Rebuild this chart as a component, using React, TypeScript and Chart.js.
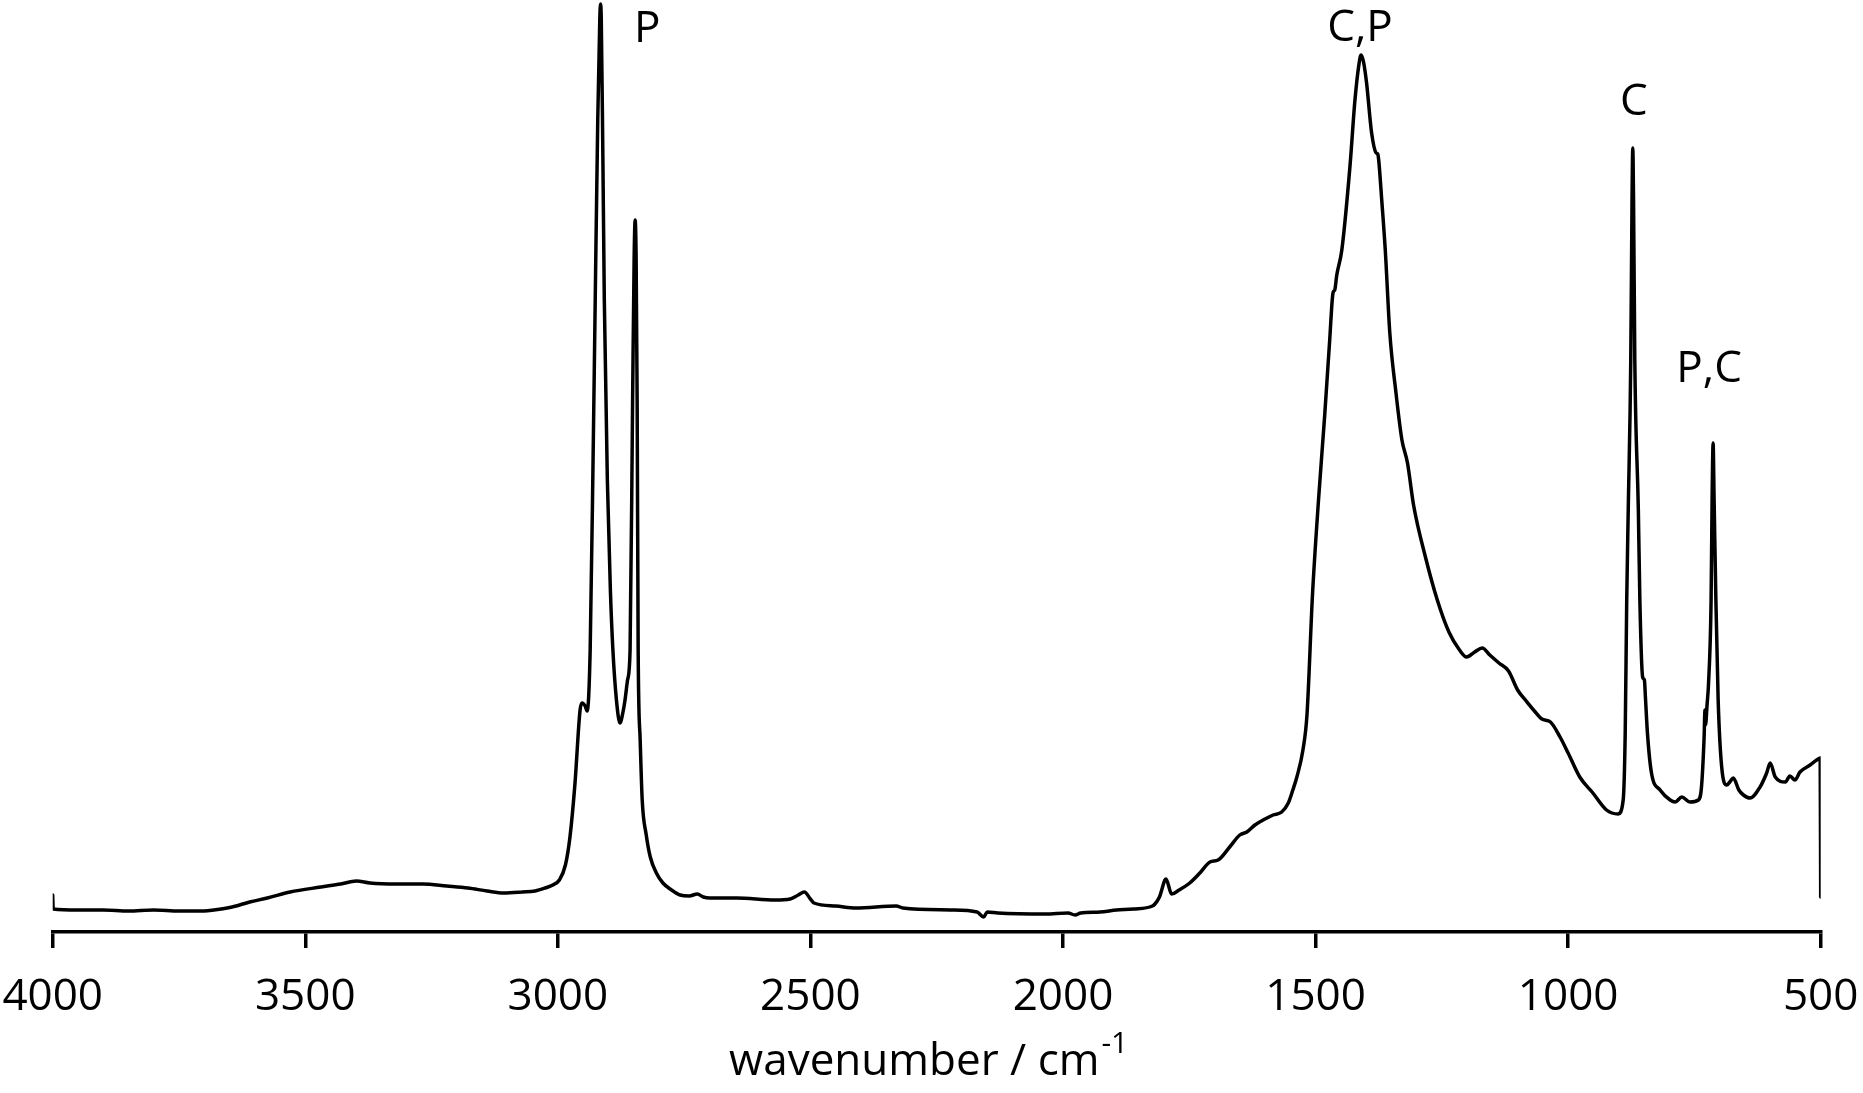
import React, { useEffect, useRef } from "react";
import { Chart, registerables } from "chart.js";

Chart.register(...registerables);

// FTIR spectrum (wavenumber in cm-1, absorbance in arbitrary units)
const wavenumbers = [
  4000, 3999, 3950, 3900, 3850, 3800, 3750, 3700, 3681, 3645, 3610, 3575, 3530, 3469, 3430, 3399,
  3372, 3320, 3267, 3220, 3178, 3140, 3107, 3070, 3045, 3025, 3010, 2997, 2985, 2976, 2966, 2956,
  2952, 2946, 2942, 2936, 2930, 2926, 2921, 2917, 2915.5, 2914, 2911, 2908, 2902, 2896, 2891, 2884,
  2877, 2871, 2867, 2862, 2857, 2852, 2849, 2847, 2845, 2843, 2841, 2837, 2833, 2825, 2817, 2805,
  2792, 2775, 2758, 2740, 2724, 2712, 2699, 2646, 2570, 2540, 2524, 2512, 2500, 2493, 2450, 2410,
  2330, 2317, 2223, 2170, 2157, 2150, 2129, 2035, 1990, 1976, 1965, 1927, 1894, 1861, 1823, 1818,
  1809, 1796, 1785, 1770, 1749, 1729, 1709, 1693, 1670, 1650, 1636, 1620, 1600, 1584, 1567, 1554,
  1545, 1537, 1525, 1517, 1506, 1494, 1482, 1472, 1467, 1465, 1462, 1458, 1448, 1432, 1422, 1414,
  1410, 1405, 1399, 1389, 1380, 1377, 1375, 1369, 1362, 1353, 1341, 1329, 1318, 1306, 1282, 1259,
  1236, 1215, 1201, 1185, 1170, 1155, 1137, 1118, 1100, 1083, 1065, 1052, 1035, 1016, 1000, 977,
  951, 924, 901, 891, 887, 884, 881, 876, 873.5, 872, 870.5, 868, 861, 858, 852.5, 849,
  847, 843, 835, 818, 798, 788, 775, 759, 742, 736, 731, 729, 728, 725, 722, 717,
  715, 713, 711, 707.5, 703, 696, 686, 680, 673, 662, 653, 640, 620, 607, 600, 590,
  570, 561, 551, 541, 521, 508, 501, 500,
];

const absorbance = [
  0.037, 0.023, 0.022, 0.022, 0.021, 0.022, 0.021, 0.021, 0.022, 0.025, 0.030, 0.034, 0.040, 0.045, 0.048, 0.051,
  0.049, 0.048, 0.048, 0.046, 0.044, 0.041, 0.039, 0.040, 0.041, 0.044, 0.047, 0.052, 0.067, 0.095, 0.149, 0.222,
  0.229, 0.226, 0.221, 0.282, 0.482, 0.632, 0.812, 0.912, 0.928, 0.912, 0.782, 0.632, 0.452, 0.342, 0.282, 0.232,
  0.209, 0.220, 0.232, 0.252, 0.282, 0.532, 0.672, 0.712, 0.672, 0.532, 0.282, 0.192, 0.132, 0.097, 0.075, 0.059,
  0.049, 0.042, 0.037, 0.036, 0.038, 0.035, 0.034, 0.034, 0.032, 0.033, 0.037, 0.040, 0.033, 0.029, 0.026, 0.024,
  0.026, 0.024, 0.022, 0.020, 0.015, 0.020, 0.019, 0.018, 0.019, 0.017, 0.019, 0.020, 0.022, 0.023, 0.026, 0.028,
  0.035, 0.053, 0.038, 0.042, 0.049, 0.059, 0.070, 0.072, 0.085, 0.097, 0.100, 0.107, 0.113, 0.117, 0.120, 0.129,
  0.142, 0.155, 0.182, 0.217, 0.338, 0.433, 0.516, 0.592, 0.632, 0.640, 0.642, 0.657, 0.682, 0.765, 0.832, 0.868,
  0.877, 0.870, 0.849, 0.799, 0.779, 0.778, 0.772, 0.732, 0.682, 0.599, 0.540, 0.492, 0.469, 0.427, 0.374, 0.332,
  0.300, 0.282, 0.275, 0.280, 0.284, 0.277, 0.269, 0.261, 0.242, 0.231, 0.220, 0.213, 0.210, 0.195, 0.179, 0.155,
  0.139, 0.122, 0.118, 0.132, 0.199, 0.332, 0.422, 0.572, 0.732, 0.784, 0.732, 0.572, 0.422, 0.332, 0.255, 0.252,
  0.235, 0.199, 0.159, 0.142, 0.132, 0.130, 0.135, 0.130, 0.132, 0.145, 0.192, 0.222, 0.207, 0.227, 0.249, 0.332,
  0.432, 0.489, 0.432, 0.332, 0.232, 0.165, 0.147, 0.150, 0.154, 0.142, 0.137, 0.134, 0.145, 0.159, 0.169, 0.155,
  0.150, 0.156, 0.152, 0.160, 0.167, 0.172, 0.174, 0.035,
];

// x-axis range and tick step
const xRange = [500, 4000];
const xTickStep = 500;

// peak annotations: text, wavenumber (centre), absorbance (text baseline)
const peakLabels = ["P", "C,P", "C", "P,C"];
const peakLabelX = [2823, 1412, 870, 721];
const peakLabelY = [0.89, 0.891, 0.817, 0.55];

const axisTitle = "wavenumber / cm";
const axisTitleSup = "-1";

const FONT = '"Open Sans"';
const FONT_SIZE = 44;

const annotationPlugin = {
  id: "annotations",
  afterDraw(chart: any) {
    const { ctx, chartArea } = chart;
    const xs = chart.scales.x;
    const ys = chart.scales.y;
    ctx.save();
    ctx.fillStyle = "#000";
    ctx.font = `${FONT_SIZE}px ${FONT}`;
    ctx.textAlign = "center";
    ctx.textBaseline = "alphabetic";
    peakLabels.forEach((t, i) => {
      ctx.fillText(t, xs.getPixelForValue(peakLabelX[i]), ys.getPixelForValue(peakLabelY[i]));
    });

    // axis title with superscript
    const mainFont = `${FONT_SIZE}px ${FONT}`;
    const supFont = `30px ${FONT}`;
    ctx.font = mainFont;
    const w1 = ctx.measureText(axisTitle).width;
    ctx.font = supFont;
    const w2 = ctx.measureText(axisTitleSup).width;
    const cx = (chartArea.left + chartArea.right) / 2 - 8;
    const sx = cx - (w1 + w2 + 2) / 2;
    const baseY = chartArea.bottom + 143;
    ctx.textAlign = "left";
    ctx.font = mainFont;
    ctx.fillText(axisTitle, sx, baseY);
    ctx.font = supFont;
    ctx.fillText(axisTitleSup, sx + w1 + 2, baseY - 22);
    ctx.restore();
  },
};

export default function App() {
  const canvasRef = useRef<HTMLCanvasElement | null>(null);

  useEffect(() => {
    document.body.style.margin = "0";
    const canvas = canvasRef.current;
    if (!canvas) return;
    const points = wavenumbers.map((x, i) => ({ x, y: absorbance[i] }));
    const chart = new Chart(canvas, {
      type: "line",
      data: {
        datasets: [
          {
            data: points,
            borderColor: "#000",
            borderWidth: 3.5,
            pointRadius: 0,
            cubicInterpolationMode: "monotone",
            fill: false,
            borderJoinStyle: "round",
            borderCapStyle: "round",
          } as any,
        ],
      },
      options: {
        animation: false,
        responsive: true,
        maintainAspectRatio: false,
        layout: { padding: { left: 52.7, right: 42.3, top: 0, bottom: 0 } },
        plugins: {
          legend: { display: false },
          tooltip: { enabled: false },
          title: { display: false },
        },
        scales: {
          x: {
            type: "linear",
            reverse: true,
            min: xRange[0],
            max: xRange[1],
            afterFit: (scale: any) => {
              scale.height = 161;
              scale.paddingLeft = 0;
              scale.paddingRight = 0;
            },
            ticks: {
              stepSize: xTickStep,
              color: "#000",
              font: { family: FONT, size: FONT_SIZE },
              padding: 23,
              maxRotation: 0,
              autoSkip: false,
              callback: (v: any) => String(v),
            },
            grid: {
              display: true,
              drawOnChartArea: false,
              drawTicks: true,
              tickLength: 16,
              lineWidth: 3.5,
              color: "#000",
            },
            border: { display: true, color: "#000", width: 3.5 },
          },
          y: {
            type: "linear",
            display: false,
            min: 0,
            max: 0.932,
          },
        },
      },
      plugins: [annotationPlugin],
    });
    return () => chart.destroy();
  }, []);

  return (
    <div style={{ position: "relative", width: "1863px", height: "1093px", background: "#fff" }}>
      <canvas ref={canvasRef} />
    </div>
  );
}
